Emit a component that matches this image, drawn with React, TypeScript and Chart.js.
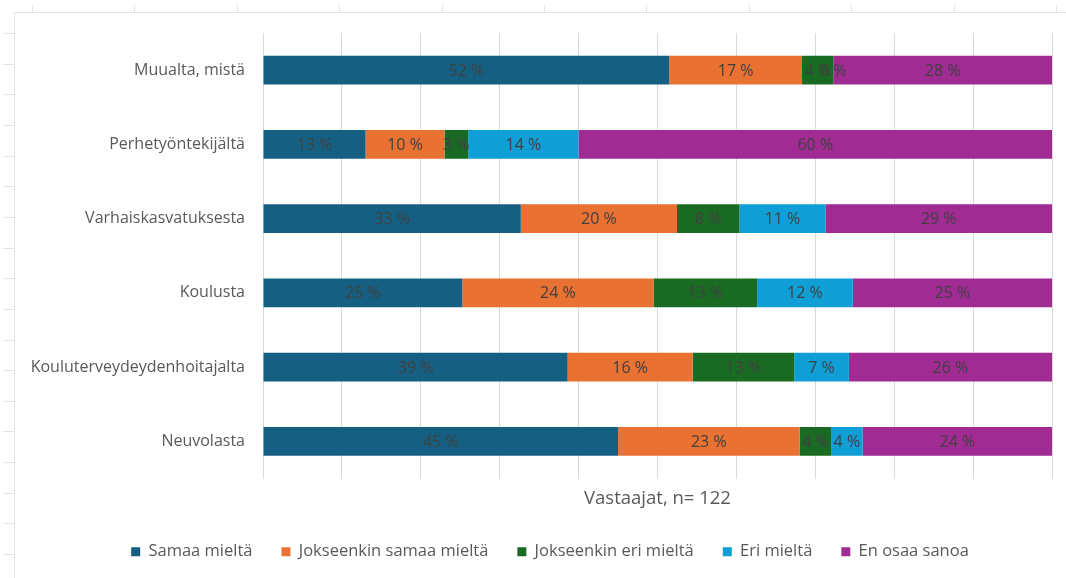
import React, { useEffect, useRef } from "react";
import { Chart, registerables } from "chart.js";

Chart.register(...registerables);

const categories = [
  "Muualta, mistä",
  "Perhetyöntekijältä",
  "Varhaiskasvatuksesta",
  "Koulusta",
  "Kouluterveydeydenhoitajalta",
  "Neuvolasta",
];

const seriesLabels = [
  "Samaa mieltä",
  "Jokseenkin samaa mieltä",
  "Jokseenkin eri mieltä",
  "Eri mieltä",
  "En osaa sanoa",
];

const samaaMielta = [52, 13, 33, 25, 39, 45];
const jokseenkinSamaaMielta = [17, 10, 20, 24, 16, 23];
const jokseenkinEriMielta = [4, 3, 8, 13, 13, 4];
const eriMielta = [0, 14, 11, 12, 7, 4];
const enOsaaSanoa = [28, 60, 29, 25, 26, 24];

const seriesColors = ["#156082", "#E97132", "#196B24", "#0F9ED5", "#A02B93"];

const axisTitle = "Vastaajat, n= 122";
const xTicksMin = 0;
const xTicksMax = 100;
const xTickStep = 10;

const FONT = "'Open Sans', sans-serif";
const TEXT_COLOR = "#595959";
const GRID_COLOR = "#d9d9d9";

export default function App() {
  const ref = useRef<HTMLCanvasElement>(null);

  useEffect(() => {
    const raw = [samaaMielta, jokseenkinSamaaMielta, jokseenkinEriMielta, eriMielta, enOsaaSanoa];
    const sums = categories.map((_, i) => raw.reduce((s, arr) => s + arr[i], 0));

    const labelPlugin = {
      id: "segmentLabels",
      afterDatasetsDraw(chart: any) {
        const ctx = chart.ctx;
        ctx.save();
        ctx.font = `16px ${FONT}`;
        ctx.fillStyle = "#404040";
        ctx.textAlign = "center";
        ctx.textBaseline = "middle";
        chart.data.datasets.forEach((_: any, di: number) => {
          const meta = chart.getDatasetMeta(di);
          meta.data.forEach((el: any, i: number) => {
            const p = el.getProps(["x", "base", "y"], true);
            ctx.fillText(`${raw[di][i]} %`, (p.x + p.base) / 2, p.y + 1);
          });
        });
        ctx.restore();
      },
    };

    const legendShift = {
      id: "legendShift",
      afterLayout(chart: any) {
        const lg = chart.legend;
        if (lg) {
          lg.left += 14;
          lg.right += 14;
        }
      },
    };

    const chart = new Chart(ref.current as HTMLCanvasElement, {
      type: "bar",
      data: {
        labels: categories,
        datasets: raw.map((arr, di) => ({
          label: seriesLabels[di],
          data: arr.map((v, i) => (v / sums[i]) * 100),
          backgroundColor: seriesColors[di],
          borderWidth: 0,
          categoryPercentage: 1,
          barPercentage: 0.39,
        })),
      },
      options: {
        indexAxis: "y",
        responsive: false,
        animation: false,
        events: [],
        layout: { padding: { left: 20, right: 14, top: 33, bottom: 8 } },
        scales: {
          x: {
            stacked: true,
            min: xTicksMin,
            max: xTicksMax,
            ticks: { display: false, stepSize: xTickStep },
            grid: { color: GRID_COLOR, drawTicks: false, lineWidth: 1 },
            border: { display: false },
            title: {
              display: true,
              text: axisTitle,
              color: TEXT_COLOR,
              font: { family: FONT, size: 18.5 },
              padding: { top: 4, bottom: 5 },
            },
            afterFit(scale: any) {
              scale.height = 36;
            },
          },
          y: {
            stacked: true,
            ticks: {
              color: TEXT_COLOR,
              font: { family: FONT, size: 16 },
              padding: 18,
            },
            grid: { display: false, drawTicks: false },
            border: { display: false },
            afterFit(scale: any) {
              scale.width = 243;
            },
          },
        },
        plugins: {
          legend: {
            position: "bottom",
            labels: {
              boxWidth: 9,
              boxHeight: 9,
              padding: 29,
              color: TEXT_COLOR,
              font: { family: FONT, size: 16.5 },
            },
          },
          tooltip: { enabled: false },
        },
      } as any,
      plugins: [labelPlugin, legendShift],
    });
    return () => chart.destroy();
  }, []);

  const leftTicks: number[] = [];
  for (let k = 0; k < 18; k++) leftTicks.push(33 + k * 30.65);
  const topTicks: number[] = [];
  for (let k = 0; k < 11; k++) topTicks.push(32 + k * 102.4);

  return (
    <div
      style={{
        position: "fixed",
        left: 0,
        top: 0,
        width: 1066,
        height: 578,
        background: "#ffffff",
        overflow: "hidden",
      }}
    >
      <canvas ref={ref} width={1066} height={578} style={{ display: "block", position: "absolute", left: 0, top: 0 }} />
      <div style={{ position: "absolute", left: 14, top: 12, width: 1, height: 566, background: "#e3e3e3" }} />
      <div style={{ position: "absolute", left: 14, top: 12, width: 1052, height: 1, background: "#e3e3e3" }} />
      {leftTicks.map((y, i) => (
        <div key={"l" + i} style={{ position: "absolute", left: 3, top: Math.round(y), width: 11, height: 1, background: "#e3e3e3" }} />
      ))}
      {topTicks.map((x, i) => (
        <div key={"t" + i} style={{ position: "absolute", left: Math.round(x), top: 5, width: 1, height: 7, background: "#e3e3e3" }} />
      ))}
    </div>
  );
}
